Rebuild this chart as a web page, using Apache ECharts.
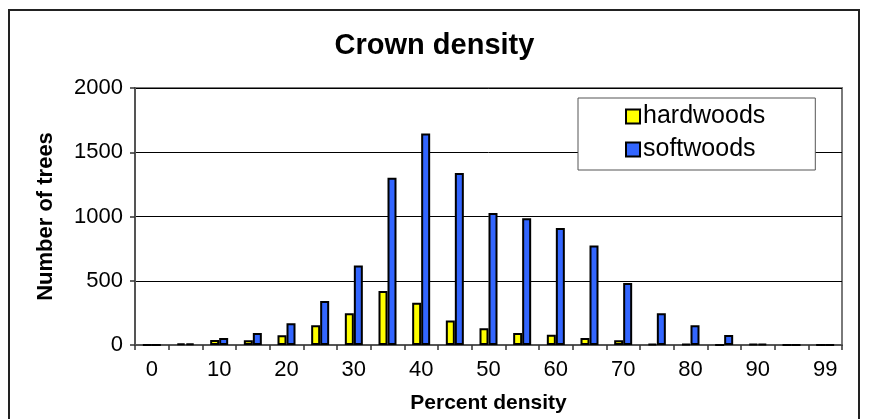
<!DOCTYPE html>
<html>
<head>
<meta charset="utf-8">
<script src="https://cdn.jsdelivr.net/npm/echarts@6/dist/echarts.min.js"></script>
<style>
html,body{margin:0;padding:0;background:#fff;}
#chart{width:869px;height:419px;}
</style>
</head>
<body>
<div id="chart"></div>
<script>
var categories = ['0','5','10','15','20','25','30','35','40','45','50','55','60','65','70','75','80','85','90','95','99'];
var hardwoods = [0, 12, 38, 36, 76, 153, 247, 420, 328, 191, 130, 94, 79, 54, 36, 8, 8, 0, 6, 0, 0];
var softwoods = [0, 12, 54, 94, 170, 343, 618, 1302, 1645, 1338, 1027, 986, 910, 775, 482, 247, 153, 77, 8, 0, 0];
var yTicks = {min: 0, max: 2000, interval: 500};

var FONT = "'Liberation Sans', Arial, sans-serif";
var chart = echarts.init(document.getElementById('chart'), null, {renderer: 'canvas'});
chart.setOption({
  backgroundColor: '#ffffff',
  animation: false,
  textStyle: {fontFamily: FONT},
  title: {
    text: 'Crown density',
    left: 'center',
    top: 26,
    textStyle: {fontFamily: FONT, fontSize: 29, fontWeight: 'bold', color: '#000'}
  },
  legend: {
    orient: 'vertical',
    left: 578,
    top: 98,
    padding: [6, 50, 8, 47],
    itemGap: 8,
    itemWidth: 14,
    itemHeight: 14,
    icon: 'rect',
    backgroundColor: '#ffffff',
    borderColor: '#555',
    borderWidth: 1,
    borderRadius: 0,
    textStyle: {fontFamily: FONT, fontSize: 25, color: '#000', padding: [0, 0, 0, -2], lineHeight: 25},
    itemStyle: {borderColor: '#000', borderWidth: 2},
    data: ['hardwoods', 'softwoods']
  },
  grid: {
    left: 135, right: 27, top: 88, bottom: 70,
    show: true, borderColor: '#7a7a7a', borderWidth: 2, backgroundColor: '#fff'
  },
  xAxis: {
    type: 'category',
    data: categories,
    name: 'Percent density',
    nameLocation: 'middle',
    nameGap: 48,
    nameTextStyle: {fontFamily: FONT, fontSize: 21, fontWeight: 'bold', color: '#000'},
    axisLine: {show: true, lineStyle: {color: '#555', width: 2}},
    axisTick: {show: true, interval: 0, alignWithLabel: false, length: 5, lineStyle: {color: '#333', width: 1.5}},
    axisLabel: {interval: 1, fontFamily: FONT, fontSize: 22, color: '#000', margin: 14},
    splitLine: {show: false}
  },
  yAxis: {
    type: 'value',
    min: yTicks.min, max: yTicks.max, interval: yTicks.interval,
    name: 'Number of trees',
    nameLocation: 'middle',
    nameGap: 78,
    nameTextStyle: {fontFamily: FONT, fontSize: 22, fontWeight: 'bold', color: '#000'},
    axisLine: {show: true, lineStyle: {color: '#555', width: 2}},
    axisTick: {show: true, length: 5, lineStyle: {color: '#333', width: 1.5}},
    axisLabel: {fontFamily: FONT, fontSize: 22, color: '#000', margin: 12, formatter: function (v) { return String(v); }},
    splitLine: {show: true, lineStyle: {color: '#000', width: 1}}
  },
  series: [
    {
      name: 'hardwoods', type: 'bar', data: hardwoods,
      barWidth: 9, barGap: '0%',
      itemStyle: {color: '#ffff00', borderColor: '#000', borderWidth: 2}
    },
    {
      name: 'softwoods', type: 'bar', data: softwoods,
      barWidth: 9, barGap: '0%',
      itemStyle: {color: '#3366ff', borderColor: '#000', borderWidth: 2}
    }
  ],
  graphic: [{
    type: 'rect', silent: true, z: 100,
    shape: {x: 9, y: 10, width: 850, height: 430},
    style: {fill: null, stroke: '#222', lineWidth: 2}
  }]
});
</script>
</body>
</html>
